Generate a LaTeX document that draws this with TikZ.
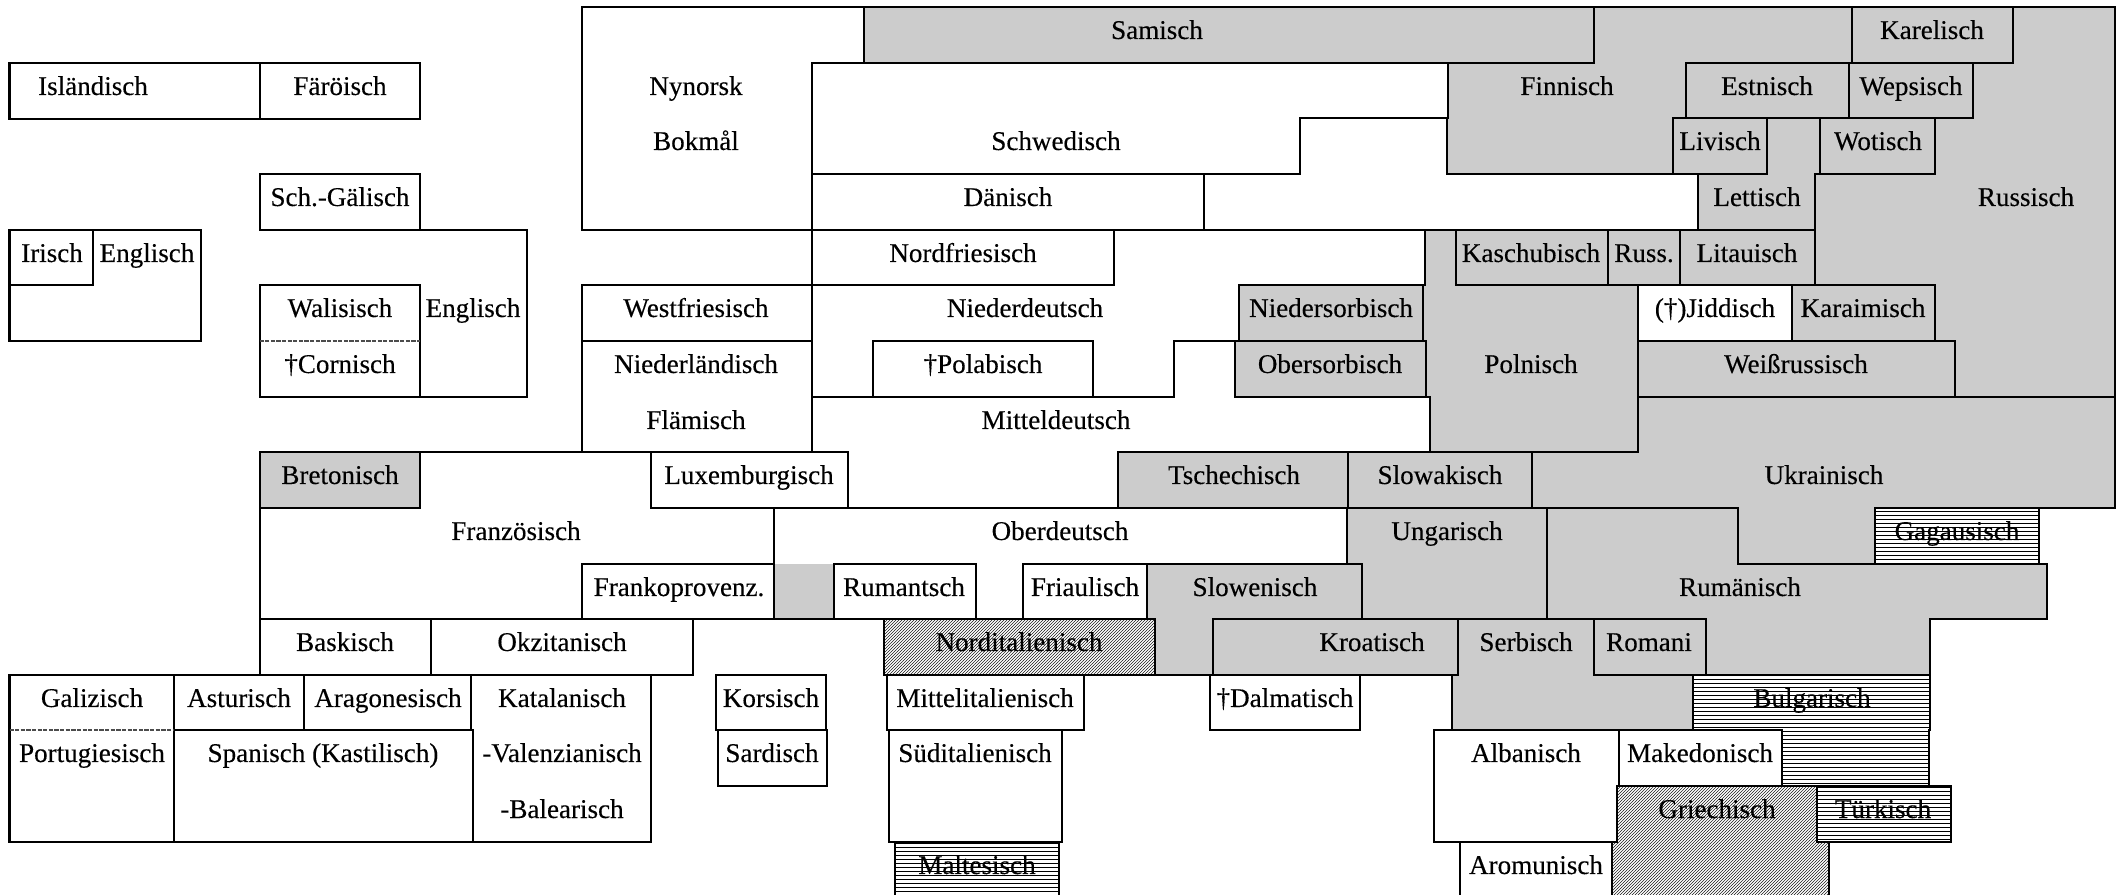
\documentclass[tikz,border=0pt]{standalone}
\usepackage{fontspec}
\setmainfont[RawFeature={embolden=0.3}]{Liberation Serif}
\usetikzlibrary{patterns.meta}
\definecolor{sprachgrau}{gray}{0.8}

\begin{document}
\begin{tikzpicture}[x=0.1mm,y=0.1mm]
\tikzstyle{every node}+=[inner sep=0pt]
\tikzstyle{lang}=[anchor=base,font=\fontsize{7.7}{9}\selectfont]
\tikzstyle{grenze}=[black,line width=0.57pt,line cap=rect]
\tikzstyle{trenn}=[black!70,line width=0.57pt,dash pattern=on 1.2pt off 0.4pt]
\tikzstyle{schraeg}=[pattern={Lines[angle=45,distance=0.6036pt,line width=0.13pt]},pattern color=black!90]
\tikzstyle{quer}=[pattern={Lines[angle=0,distance=1.138pt,line width=0.24pt]}]
\useasboundingbox (0,0) rectangle (2120,-895);
% grey area
\fill [sprachgrau] (863.5,-7) -- (2115,-7) -- (2115,-508) -- (2039,-508) -- (2039,-564) -- (2047,-564) -- (2047,-619) -- (1930,-619) -- (1930,-730) -- (1452,-730) -- (1452,-675) -- (1155,-675) -- (1155,-619) -- (1147,-619) -- (1147,-564) -- (1347,-564) -- (1347,-508) -- (1117.5,-508) -- (1117.5,-452) -- (1430,-452) -- (1430,-397) -- (1235,-397) -- (1235,-341) -- (1239,-341) -- (1239,-285) -- (1425,-285) -- (1425,-230) -- (1698,-230) -- (1698,-174) -- (1447,-174) -- (1447,-118) -- (1448,-118) -- (1448,-63) -- (863.5,-63) -- cycle;
\fill [sprachgrau] (259.5,-452) rectangle (420,-508);
\fill [sprachgrau] (774,-564) rectangle (833.6,-619);
\fill [white] (1638,-285) rectangle (1792,-341);
% hatched areas
\fill [white] (884,-619) rectangle (1155,-675);
\fill [schraeg] (884,-619) rectangle (1155,-675);
\fill [white] (1617,-786) -- (1817,-786) -- (1817,-842) -- (1829,-842) -- (1829,-895) -- (1611.5,-895) -- (1611.5,-842) -- (1617,-842) -- cycle;
\fill [schraeg] (1617,-786) -- (1817,-786) -- (1817,-842) -- (1829,-842) -- (1829,-895) -- (1611.5,-895) -- (1611.5,-842) -- (1617,-842) -- cycle;
\fill [white] (1875,-508) rectangle (2039,-564);
\fill [quer] (1875,-508) rectangle (2039,-564);
\fill [white] (895,-842) rectangle (1059,-895);
\fill [quer] (895,-842) rectangle (1059,-895);
\fill [white] (1693,-675) rectangle (1930,-730);
\fill [quer] (1693,-675) rectangle (1930,-730);
\fill [quer] (1782,-730) rectangle (1929,-786);
\fill [white] (1817,-786) rectangle (1951,-842);
\fill [quer] (1817,-786) rectangle (1951,-842);
% left islands
\draw [grenze] (9.5,-63) rectangle (420,-119);
\draw [grenze] (260,-63) -- (260,-119);
\draw [grenze] (9.5,-230) rectangle (201,-341);
\draw [grenze] (93,-230) -- (93,-285) -- (9.5,-285);
\draw [grenze] (259.5,-230) -- (259.5,-174) -- (420,-174) -- (420,-230);
\draw [grenze] (259.5,-230) -- (527,-230) -- (527,-397) -- (259.5,-397) -- (259.5,-285) -- (420,-285) -- (420,-397);
\draw [trenn] (259.5,-341) -- (420,-341);
% north
\draw [grenze] (582,-230) -- (582,-7) -- (2115,-7) -- (2115,-508);
\draw [grenze] (863.5,-7) -- (863.5,-63);
\draw [grenze] (1594,-7) -- (1594,-63);
\draw [grenze] (1851.5,-7) -- (1851.5,-63);
\draw [grenze] (2013,-7) -- (2013,-63) -- (1686,-63) -- (1686,-118);
\draw [grenze] (812,-452) -- (812,-63) -- (1594,-63);
\draw [grenze] (1448,-63) -- (1448,-118) -- (1300,-118) -- (1300,-174) -- (812,-174);
\draw [grenze] (1204,-174) -- (1204,-230);
\draw [grenze] (582,-230) -- (1815,-230);
\draw [grenze] (1114,-230) -- (1114,-285) -- (582,-285) -- (582,-452);
\draw [grenze] (582,-341) -- (812,-341);
\draw [grenze] (1447,-118) -- (1447,-174) -- (1767,-174) -- (1767,-118);
\draw [grenze] (1849,-63) -- (1849,-118);
\draw [grenze] (1973,-63) -- (1973,-118) -- (1673,-118) -- (1673,-174);
\draw [grenze] (1820,-118) -- (1820,-174);
\draw [grenze] (1935,-118) -- (1935,-174) -- (1815,-174) -- (1815,-285);
\draw [grenze] (1698,-174) -- (1698,-230);
\draw [grenze] (1425,-230) -- (1425,-285);
\draw [grenze] (1456,-230) -- (1456,-285) -- (1935,-285) -- (1935,-341);
\draw [grenze] (1608,-230) -- (1608,-285);
\draw [grenze] (1680,-230) -- (1680,-285);
\draw [grenze] (1792,-285) -- (1792,-341);
\draw [grenze] (1638,-285) -- (1638,-452);
\draw [grenze] (1638,-341) -- (1955,-341) -- (1955,-397);
\draw [grenze] (1638,-397) -- (2115,-397);
% middle
\draw [grenze] (872.5,-397) -- (872.5,-341) -- (1093,-341) -- (1093,-397);
\draw [grenze] (812,-397) -- (1174,-397) -- (1174,-341) -- (1426,-341) -- (1426,-397);
\draw [grenze] (1239,-341) -- (1239,-285) -- (1423,-285) -- (1423,-341);
\draw [grenze] (1235,-341) -- (1235,-397) -- (1430,-397) -- (1430,-452);
\draw [grenze] (259.5,-675) -- (259.5,-452) -- (848,-452) -- (848,-508);
\draw [grenze] (1117.5,-508) -- (1117.5,-452) -- (1638,-452);
\draw [grenze] (259.5,-508) -- (420,-508) -- (420,-452);
\draw [grenze] (651,-452) -- (651,-508) -- (1738,-508) -- (1738,-564) -- (2047,-564) -- (2047,-619) -- (1932,-619);
\draw [grenze] (1348,-452) -- (1348,-508);
\draw [grenze] (1532,-452) -- (1532,-508);
\draw [grenze] (1875,-564) -- (1875,-508) -- (2115,-508);
\draw [grenze] (2039,-508) -- (2039,-564);
\draw [grenze] (774,-508) -- (774,-619);
\draw [grenze] (1347,-508) -- (1347,-564);
\draw [grenze] (582,-619) -- (582,-564) -- (774,-564);
\draw [grenze] (259.5,-619) -- (1155,-619) -- (1155,-675);
\draw [grenze] (833.6,-619) -- (833.6,-564) -- (976,-564) -- (976,-619);
\draw [grenze] (1023,-619) -- (1023,-564) -- (1362,-564) -- (1362,-619);
\draw [grenze] (1147,-564) -- (1147,-619);
\draw [grenze] (1547,-508) -- (1547,-619);
\draw [grenze] (1212.7,-675) -- (1212.7,-619) -- (1706,-619) -- (1706,-675);
\draw [grenze] (1457.5,-619) -- (1457.5,-675);
\draw [grenze] (1594,-619) -- (1594,-675) -- (1930,-675);
\draw [grenze] (884,-675) -- (884,-619);
\draw [grenze] (884,-675) -- (1457.5,-675);
\draw [grenze] (1452,-675) -- (1452,-730);
% south west
\draw [grenze] (431,-619) -- (431,-675);
\draw [grenze] (693,-619) -- (693,-675) -- (9.5,-675) -- (9.5,-842) -- (651,-842) -- (651,-675);
\draw [grenze] (174,-675) -- (174,-842);
\draw [grenze] (304,-675) -- (304,-730);
\draw [grenze] (471,-675) -- (471,-730);
\draw [grenze] (174,-730) -- (473,-730) -- (473,-842);
\draw [trenn] (9.5,-730) -- (174,-730);
% italy and islands
\draw [grenze] (716,-675) rectangle (826,-730);
\draw [grenze] (718,-730) rectangle (827,-786);
\draw [grenze] (886.6,-675) rectangle (1084,-730);
\draw [grenze] (889,-730) rectangle (1062,-842);
\draw [grenze] (895,-895) -- (895,-842) -- (1059,-842) -- (1059,-895);
\draw [grenze] (1210,-675) rectangle (1360,-730);
% south east
\draw [grenze] (1693,-675) -- (1693,-730);
\draw [grenze] (1930,-619) -- (1930,-730);
\draw [grenze] (1929,-730) -- (1929,-786);
\draw [grenze] (1434,-730) -- (1782,-730) -- (1782,-786);
\draw [grenze] (1434,-730) -- (1434,-842) -- (1617,-842) -- (1617,-786) -- (1951,-786) -- (1951,-842) -- (1817,-842) -- (1817,-786);
\draw [grenze] (1619,-730) -- (1619,-786);
\draw [grenze] (1460,-842) -- (1460,-895);
\draw [grenze] (1611.5,-842) -- (1611.5,-895);
\draw [grenze] (1829,-842) -- (1829,-895);
% labels
\node [lang] (islaendisch) at (93,-95) {Isländisch};
\node [lang] (faeroeisch) at (340,-95) {Färöisch};
\node [lang] (gaelisch) at (340,-206) {Sch.-Gälisch};
\node [lang] (irisch) at (52,-262) {Irisch};
\node [lang] (englischa) at (147,-262) {Englisch};
\node [lang] (walisisch) at (340,-317) {Walisisch};
\node [lang] (cornisch) at (340,-373) {†Cornisch};
\node [lang] (englischb) at (473,-317) {Englisch};
\node [lang] (nynorsk) at (696,-95) {Nynorsk};
\node [lang] (bokmaal) at (696,-150) {Bokmål};
\node [lang] (westfriesisch) at (696,-317) {Westfriesisch};
\node [lang] (niederlaendisch) at (696,-373) {Niederländisch};
\node [lang] (flaemisch) at (696,-429) {Flämisch};
\node [lang] (samisch) at (1157,-39) {Samisch};
\node [lang] (schwedisch) at (1056,-150) {Schwedisch};
\node [lang] (daenisch) at (1008,-206) {Dänisch};
\node [lang] (nordfriesisch) at (963,-262) {Nordfriesisch};
\node [lang] (niederdeutsch) at (1025,-317) {Niederdeutsch};
\node [lang] (polabisch) at (983,-373) {†Polabisch};
\node [lang] (mitteldeutsch) at (1056,-429) {Mitteldeutsch};
\node [lang] (niedersorbisch) at (1331,-317) {Niedersorbisch};
\node [lang] (obersorbisch) at (1330,-373) {Obersorbisch};
\node [lang] (finnisch) at (1567,-95) {Finnisch};
\node [lang] (karelisch) at (1932,-39) {Karelisch};
\node [lang] (estnisch) at (1767,-95) {Estnisch};
\node [lang] (wepsisch) at (1911,-95) {Wepsisch};
\node [lang] (livisch) at (1720,-150) {Livisch};
\node [lang] (wotisch) at (1878,-150) {Wotisch};
\node [lang] (lettisch) at (1757,-206) {Lettisch};
\node [lang] (russisch) at (2026,-206) {Russisch};
\node [lang] (kaschubisch) at (1531,-262) {Kaschubisch};
\node [lang] (russ) at (1644,-262) {Russ.};
\node [lang] (litauisch) at (1747,-262) {Litauisch};
\node [lang] (polnisch) at (1531,-373) {Polnisch};
\node [lang] (jiddisch) at (1715,-317) {(†)Jiddisch};
\node [lang] (karaimisch) at (1863,-317) {Karaimisch};
\node [lang] (weissrussisch) at (1796,-373) {Weißrussisch};
\node [lang] (bretonisch) at (340,-484) {Bretonisch};
\node [lang] (luxemburgisch) at (749,-484) {Luxemburgisch};
\node [lang] (tschechisch) at (1234,-484) {Tschechisch};
\node [lang] (slowakisch) at (1440,-484) {Slowakisch};
\node [lang] (ukrainisch) at (1824,-484) {Ukrainisch};
\node [lang] (franzoesisch) at (516,-540) {Französisch};
\node [lang] (oberdeutsch) at (1060,-540) {Oberdeutsch};
\node [lang] (ungarisch) at (1447,-540) {Ungarisch};
\node [lang] (gagausisch) at (1957,-540) {Gagausisch};
\node [lang] (frankoprovenz) at (679,-596) {Frankoprovenz.};
\node [lang] (rumantsch) at (904,-596) {Rumantsch};
\node [lang] (friaulisch) at (1085,-596) {Friaulisch};
\node [lang] (slowenisch) at (1255,-596) {Slowenisch};
\node [lang] (rumaenisch) at (1740,-596) {Rumänisch};
\node [lang] (baskisch) at (345,-651) {Baskisch};
\node [lang] (okzitanisch) at (562,-651) {Okzitanisch};
\node [lang] (norditalienisch) at (1019,-651) {Norditalienisch};
\node [lang] (kroatisch) at (1372,-651) {Kroatisch};
\node [lang] (serbisch) at (1526,-651) {Serbisch};
\node [lang] (romani) at (1649,-651) {Romani};
\node [lang] (galizisch) at (92,-707) {Galizisch};
\node [lang] (asturisch) at (239,-707) {Asturisch};
\node [lang] (aragonesisch) at (388,-707) {Aragonesisch};
\node [lang] (katalanisch) at (562,-707) {Katalanisch};
\node [lang] (korsisch) at (771,-707) {Korsisch};
\node [lang] (mittelitalienisch) at (985,-707) {Mittelitalienisch};
\node [lang] (dalmatisch) at (1285,-707) {†Dalmatisch};
\node [lang] (bulgarisch) at (1812,-707) {Bulgarisch};
\node [lang] (portugiesisch) at (92,-762) {Portugiesisch};
\node [lang] (spanisch) at (323,-762) {Spanisch (Kastilisch)};
\node [lang] (valenzianisch) at (562,-762) {-Valenzianisch};
\node [lang] (sardisch) at (772,-762) {Sardisch};
\node [lang] (sueditalienisch) at (975,-762) {Süditalienisch};
\node [lang] (albanisch) at (1526,-762) {Albanisch};
\node [lang] (makedonisch) at (1700,-762) {Makedonisch};
\node [lang] (balearisch) at (562,-818) {-Balearisch};
\node [lang] (griechisch) at (1717,-818) {Griechisch};
\node [lang] (tuerkisch) at (1883,-818) {Türkisch};
\node [lang] (maltesisch) at (977,-874) {Maltesisch};
\node [lang] (aromunisch) at (1536,-874) {Aromunisch};
\end{tikzpicture}
\end{document}
